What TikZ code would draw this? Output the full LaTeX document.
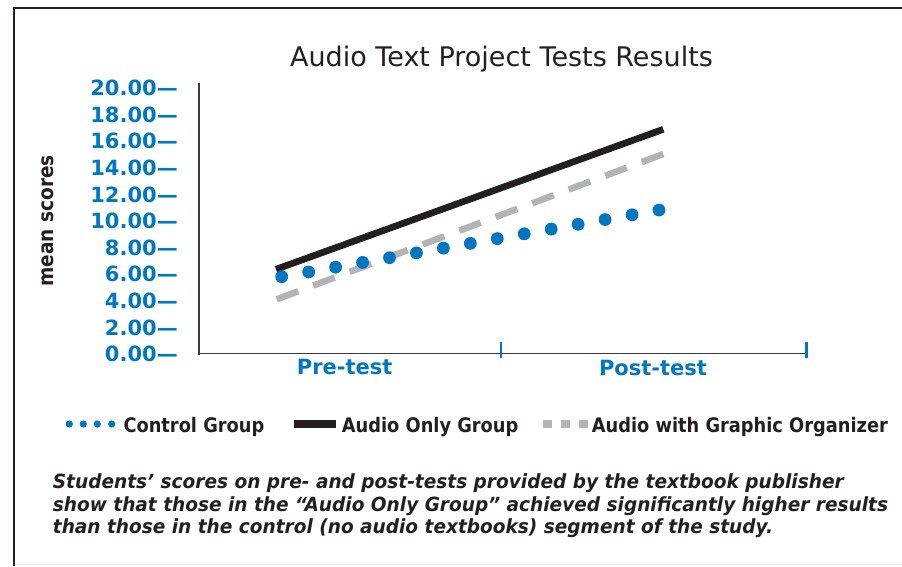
\documentclass[tikz,border=0pt]{standalone}
\usepackage{fontspec}
\setmainfont{DejaVu Sans}
\newfontfamily\condfont[FakeStretch=0.89]{DejaVu Sans}
\newfontfamily\notefont[FakeStretch=0.95]{DejaVu Sans}
\definecolor{atblue}{RGB}{0,119,192}
\definecolor{atink}{RGB}{35,31,32}
\definecolor{atgrey}{RGB}{178,179,181}
\definecolor{ataxis}{RGB}{58,58,58}
\definecolor{atrule}{RGB}{228,228,228}
\tikzset{
  ticklab/.style={anchor=base east, inner sep=0pt, text=atblue,
                  font=\fontsize{21}{24}\selectfont\bfseries},
  catlab/.style={anchor=base, inner sep=0pt, text=atblue,
                 font=\fontsize{21}{24}\selectfont\bfseries},
  keylab/.style={anchor=base west, inner sep=0pt, text=atink,
                 font=\condfont\fontsize{20}{24}\selectfont\bfseries},
  cattick/.style={draw=atblue, line width=2.4pt},
  frame/.style={draw=atink, line width=2pt},
  axis/.style={draw=ataxis, line width=1.8pt}
}

\begin{document}
\begin{tikzpicture}[x=1pt, y=-1pt]
  \useasboundingbox (0,0) rectangle (902,566);
  % frame
  \coordinate (fbl) at (14.3,566);
  \coordinate (ftl) at (14.3,7.7);
  \coordinate (ftr) at (902,7.7);
  \coordinate (rl)  at (14.3,564.5);
  \coordinate (rr)  at (902,564.5);
  \draw[atrule, line width=1pt] (rl) -- (rr);
  \draw[frame] (fbl) -- (ftl) -- (ftr);

  % title and y label
  \node[anchor=base, inner sep=0pt, text=atink, font=\fontsize{27}{30}\selectfont]
    (title) at (501.5,66.7) {Audio Text Project Tests Results};
  \node[anchor=base, inner sep=0pt, rotate=90, text=atink,
        font=\condfont\fontsize{20.8}{24}\selectfont\bfseries]
    (ylab) at (53.3,220.8) {mean scores};

  % axes
  \coordinate (otop) at (198.7,82.7);
  \coordinate (o)    at (198.7,353.5);
  \coordinate (xend) at (806.5,353.5);
  \draw[axis] (otop) -- (198.7,355) (o) -- (xend);
  \coordinate (midt) at (501,342);
  \coordinate (midb) at (501,358);
  \coordinate (endt) at (806.5,342);
  \coordinate (endb) at (806.5,358);
  \draw[cattick] (midt) -- (midb);
  \draw[cattick] (endt) -- (endb);

  % y tick labels
  \foreach \v [count=\k from 0] in {20,18,...,0}
    \node[ticklab] (yt\v) at (178,95.7+26.6*\k) {\v.00---};

  % categories
  \node[catlab] (pre)  at (344.7,374) {Pre-test};
  \node[catlab] (post) at (653,375.5) {Post-test};

  % series
  \coordinate (solo-pre)  at (276,269.3);
  \coordinate (solo-post) at (663.3,129.3);
  \coordinate (graf-pre)  at (276.7,299.3);
  \coordinate (graf-post) at (663.3,154);
  \draw[atgrey, line width=6.5pt, dash pattern=on 23pt off 16pt] (graf-pre) -- (graf-post);
  \draw[atink, line width=6.7pt] (solo-pre) -- (solo-post);
  \foreach \i in {0,...,14}
    \fill[atblue] ({281.7+26.95*\i},{276.7-4.764*\i}) circle (6.4pt);

  % legend
  \foreach \x in {69.3,83.3,97.3,111.7}
    \fill[atblue] (\x,424) circle (3.6pt);
  \node[keylab] (kctrl) at (123.3,432) {Control Group};
  \fill[atink] (294,420.3) rectangle (336,427.7);
  \node[keylab] (ksolo) at (341.7,432) {Audio Only Group};
  \foreach \x in {543,561,579}
    \fill[atgrey] (\x,419.5) rectangle (\x+8.5,427.5);
  \node[keylab] (kgraf) at (591.7,432) {Audio with Graphic Organizer};

  % caption
  \node[anchor=west, inner sep=0pt, align=left, text=atink,
        font=\notefont\fontsize{19.5}{22.5}\selectfont\bfseries\itshape]
    (note) at (52.7,506) {Students’ scores on pre- and post-tests provided by the textbook publisher\\
    show that those in the “Audio Only Group” achieved significantly higher results\\
    than those in the control (no audio textbooks) segment of the study.};
\end{tikzpicture}
\end{document}
